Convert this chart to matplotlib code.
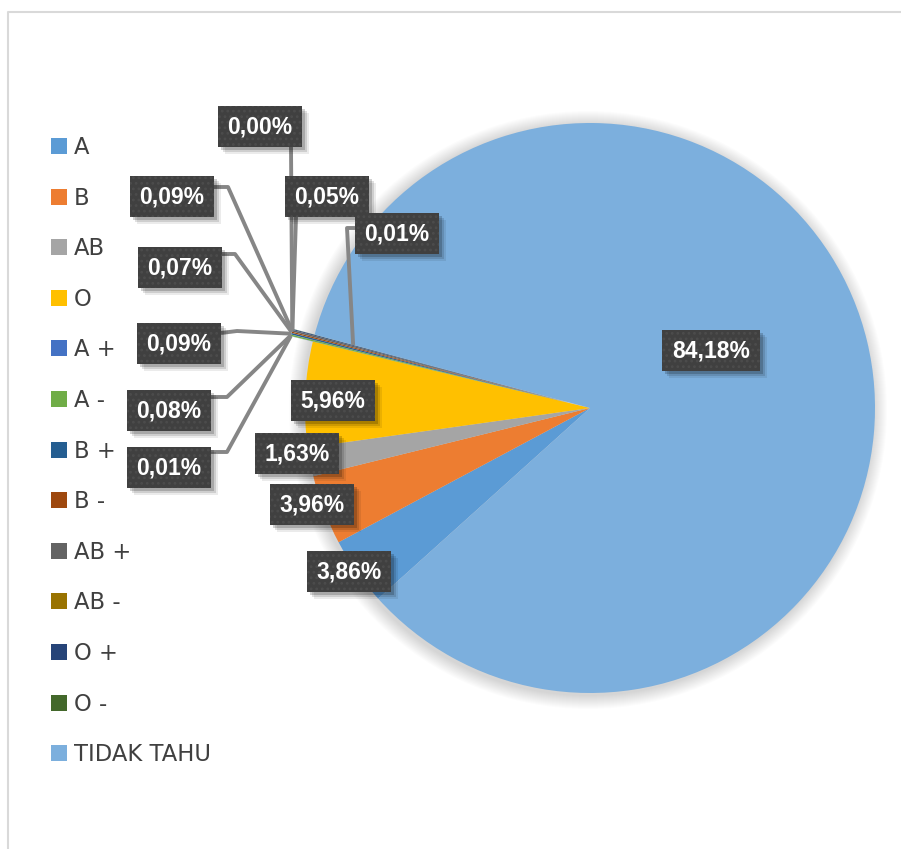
import numpy as np
import matplotlib.pyplot as plt
from matplotlib.patches import Rectangle, Circle

# blood group shares (percent)
categories = ['A', 'B', 'AB', 'O', 'A +', 'A -', 'B +', 'B -',
              'AB +', 'AB -', 'O +', 'O -', 'TIDAK TAHU']
shares = [3.86, 3.96, 1.63, 5.96, 0.01, 0.08, 0.09, 0.07,
          0.09, 0.00, 0.05, 0.01, 84.18]
colors = ['#5B9BD5', '#ED7D31', '#A5A5A5', '#FFC000', '#4472C4', '#70AD47',
          '#255E91', '#9E480E', '#636363', '#997300', '#264478', '#43682B',
          '#7CAFDD']

W, H = 901, 849
CX, CY, R = 590, 408, 285

# label box centres in pixel units (y downwards)
label_pos = [(349, 571), (312, 504), (297, 453), (333, 400), (169, 467),
             (169, 410), (179, 343), (180, 267), (172, 196), (260, 126),
             (327, 196), (397, 233), (711, 350)]

# leader lines for the tiny slices: bend points ending at the label box
leaders = {
    4: [(227, 452), (211, 452)],
    5: [(227, 397), (211, 397)],
    6: [(237, 331), (221, 333)],
    7: [(235, 254), (222, 254)],
    8: [(228, 187), (214, 187)],
    9: [(291, 147)],
    10: [(296, 217)],
    11: [(347, 228), (355, 228)],
}

plt.rcParams['hatch.linewidth'] = 1.2

fig = plt.figure(figsize=(W / 100, H / 100), dpi=100)
ax = fig.add_axes([0, 0, 1, 1])

# soft shadow round the pie
for k in range(14, 0, -1):
    ax.add_patch(Circle((CX - 2, CY + 2), R + k, color='#000000',
                        alpha=0.012, lw=0, zorder=0))

# pie explode offsets are in data units here (pixels)
explode = [0.08 * R if s < 1 else 0 for s in shares]
wedges, _ = ax.pie(shares, colors=colors, startangle=138, counterclock=True,
                   center=(CX, CY), radius=R, explode=explode,
                   wedgeprops=dict(linewidth=0))

ax.set_xlim(0, W)
ax.set_ylim(H, 0)
ax.set_aspect('equal')
ax.axis('off')

# leader lines
for i, pts in leaders.items():
    w = wedges[i]
    mid = np.deg2rad((w.theta1 + w.theta2) / 2)
    frac = 0.78 if i == 11 else 1.0
    ax0 = w.center[0] + w.r * frac * np.cos(mid)
    ay0 = w.center[1] + w.r * frac * np.sin(mid)
    xs = [ax0] + [p[0] for p in pts]
    ys = [ay0] + [p[1] for p in pts]
    ax.plot(xs, ys, color='#868686', lw=2.8, solid_capstyle='butt', zorder=3)

# data labels
for i, (val, (x, y)) in enumerate(zip(shares, label_pos)):
    txt = f'{val:.2f}%'.replace('.', ',')
    bw = 14 * len(txt) + 14
    bh = 41
    for k, a in [(7, 0.08), (5, 0.12), (3, 0.18)]:
        ax.add_patch(Rectangle((x - bw / 2 + k, y - bh / 2 + k), bw, bh,
                               color='#000000', alpha=a, lw=0, zorder=4))
    ax.add_patch(Rectangle((x - bw / 2, y - bh / 2), bw, bh, facecolor='#404040',
                           edgecolor='#4C4C4C', hatch='...', lw=0, zorder=5))
    ax.text(x, y + 1, txt, color='white', fontsize=16.5, fontweight='bold',
            family='Liberation Sans', ha='center', va='center', zorder=6)

# legend on the left
for i, (cat, c) in enumerate(zip(categories, colors)):
    top = 138 + i * 50.6
    ax.add_patch(Rectangle((51, top), 16, 16, color=c, lw=0, zorder=5))
    ax.text(74, top + 16, cat, color='#404040', fontsize=16.3,
            family='DejaVu Sans', ha='left', va='baseline', zorder=6)

# chart area border
ax.plot([8, 8, W + 5], [H + 5, 12, 12], color='#D9D9D9', lw=1.5,
        clip_on=False, zorder=7)

fig.savefig('out.png', dpi=100)
